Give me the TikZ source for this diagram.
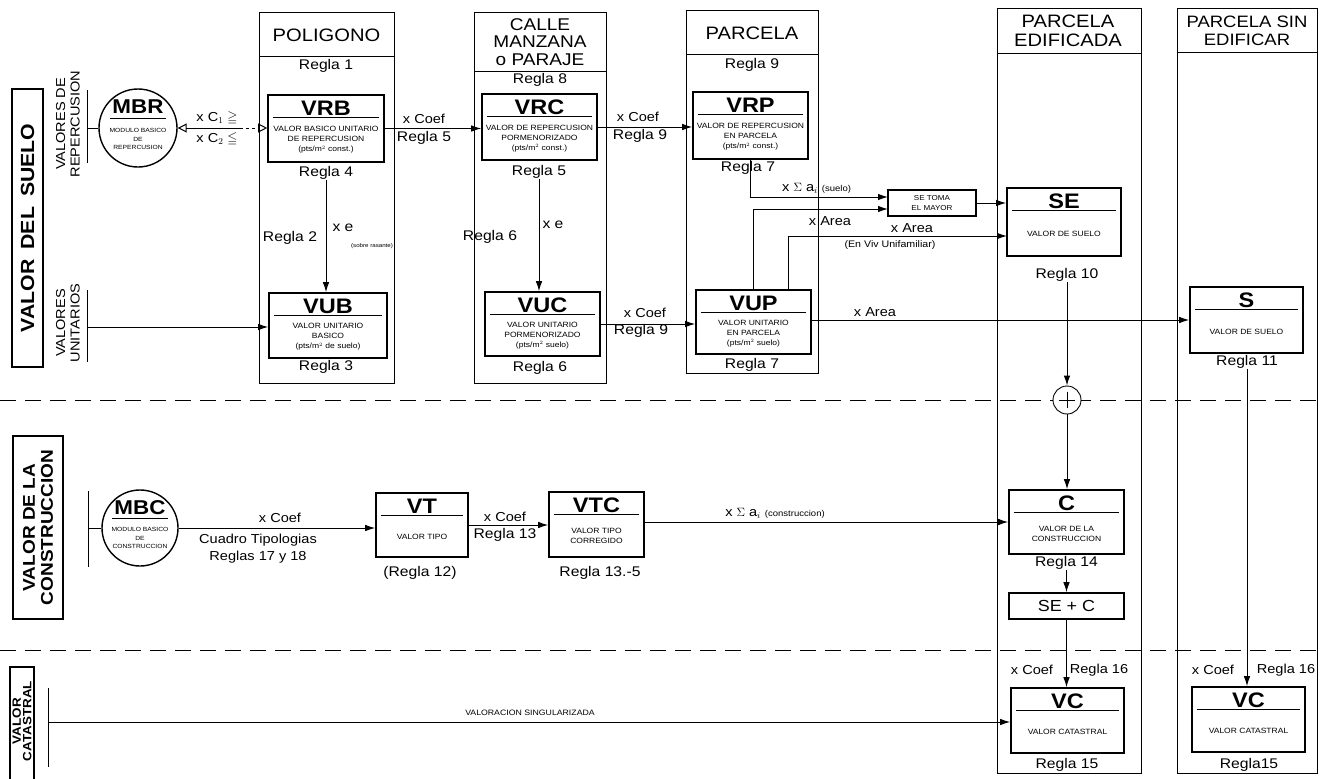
\documentclass[tikz,border=0pt]{standalone}
\usepackage{amssymb}
\usepackage{fontspec}
\setmainfont{Liberation Sans}[FakeStretch=1.12]
\usetikzlibrary{arrows.meta,calc}
\newcommand{\fsz}[2]{\fontsize{#1}{#2}\selectfont}
\newcommand{\mybox}[7]{%
  \node[bx, minimum width=#4, minimum height=#5] (#1) at (#2,#3) {};
  \node[ttl] (#1t) at ($(#1.north)+(0,14)$) {#6};
  \draw[line width=0.8pt] ($(#1.north west)+(6,23)$) -- ($(#1.north east)+(-6,23)$);
  \node[sm] (#1s) at ($(#1.center)+(0,11.5)$) {#7};
}
\begin{document}
\begin{tikzpicture}[x=1pt,y=-1pt,
  bx/.style={draw, line width=1.6pt, inner sep=0},
  col/.style={line width=0.8pt},
  arr/.style={-{Latex[length=10pt,width=6.5pt]}, line width=1pt},
  lnk/.style={line width=1pt},
  hd/.style={inner sep=0, align=center, font=\fsz{18}{19}},
  rg/.style={inner sep=0, font=\fsz{14}{16}},
  lab/.style={inner sep=0, font=\fsz{13}{15}},
  ttl/.style={inner sep=0, font=\bfseries\fsz{21}{21}},
  sm/.style={inner sep=0, align=center, font=\fsz{7.6}{10}},
  sep/.style={dash pattern=on 16pt off 9pt, line width=0.9pt},
  side/.style={draw, line width=1.3pt, inner sep=0},
  sidetxt/.style={inner sep=0, rotate=90, align=center},
]
\useasboundingbox[fill=white] (0,0) rectangle (1323,779);

% separators
\draw[sep] (0,400) -- (1323,400);
\draw[sep] (0,650) -- (1323,650);

% columns
\draw[col] (259,12) rectangle (394,383); \draw[col] (259,56) -- (394,56);
\draw[col] (474,12) rectangle (606,383); \draw[col] (474,71) -- (606,71);
\draw[col] (686,10) rectangle (818,373); \draw[col] (686,54) -- (818,54);
\draw[col] (997,8) rectangle (1141,773); \draw[col] (997,53) -- (1141,53);
\draw[col] (1177,8) rectangle (1317,773); \draw[col] (1177,52) -- (1317,52);

% headers
\node[hd] (hPol) at (326.5,35) {POLIGONO};
\node[hd, font=\fsz{17}{17.5}] (hCal) at (540,42) {CALLE\\MANZANA\\o PARAJE};
\node[hd] (hPar) at (752,33) {PARCELA};
\node[hd] (hEdi) at (1068,31) {PARCELA\\EDIFICADA};
\node[hd, font=\fsz{16.5}{18}] (hSin) at (1247,31) {PARCELA SIN\\EDIFICAR};

% side labels
\node[side, minimum width=31, minimum height=278] (lblS) at (27.5,228) {};
\node[sidetxt, font=\bfseries\fsz{19}{19}] (tS) at (lblS) {VALOR\hspace{10pt}DEL\hspace{10pt}SUELO};
\node[side, minimum width=50, minimum height=183] (lblC) at (38,527.5) {};
\node[sidetxt, font=\bfseries\fsz{17}{18}] (tC) at (lblC) {VALOR DE LA\\CONSTRUCCION};
\node[side, minimum width=24, minimum height=123] (lblV) at (22,728.5) {};
\node[sidetxt, font=\bfseries\fsz{12}{10.5}] (tV) at (22,721) {VALOR\\CATASTRAL};
\node[sidetxt, font=\fsz{13}{14.5}] (tVR) at (68,124) {VALORES DE\\REPERCUSION};
\node[sidetxt, font=\fsz{13}{14.5}] (tVU) at (68,323) {VALORES\\UNITARIOS};

% circles
\node[draw, circle, line width=1.4pt, minimum size=78, inner sep=0] (MBR) at (138,128) {};
\node[inner sep=0, font=\bfseries\fsz{20}{20}] (MBRt) at (138,107) {MBR};
\draw[line width=0.8pt] (110,118) -- (166,118);
\node[inner sep=0, align=center, font=\fsz{6}{8.5}] (MBRs) at (138,139) {MODULO BASICO\\DE\\REPERCUSION};

\node[draw, circle, line width=1.4pt, minimum size=76, inner sep=0] (MBC) at (140,528) {};
\node[inner sep=0, font=\bfseries\fsz{20}{20}] (MBCt) at (140,508) {MBC};
\draw[line width=0.8pt] (112,518) -- (168,518);
\node[inner sep=0, align=center, font=\fsz{6}{8.5}] (MBCs) at (140,538) {MODULO BASICO\\DE\\CONSTRUCCION};

% boxes
\mybox{VRB}{326}{128.5}{116}{67}{VRB}{VALOR BASICO UNITARIO\\DE REPERCUSION\\(pts/m$^2$ const.)}
\mybox{VUB}{328}{325.5}{118}{65}{VUB}{VALOR UNITARIO\\BASICO\\(pts/m$^2$ de suelo)}
\mybox{VRC}{539.5}{127}{115}{66}{VRC}{VALOR DE REPERCUSION\\PORMENORIZADO\\(pts/m$^2$ const.)}
\mybox{VUC}{542.5}{324}{115}{64}{VUC}{VALOR UNITARIO\\PORMENORIZADO\\(pts/m$^2$ suelo)}
\mybox{VRP}{750.5}{125.5}{115}{67}{VRP}{VALOR DE REPERCUSION\\EN PARCELA\\(pts/m$^2$ const.)}
\mybox{VUP}{753.5}{322}{115}{64}{VUP}{VALOR UNITARIO\\EN PARCELA\\(pts/m$^2$ suelo)}
\mybox{SE}{1064}{222}{114}{68}{SE}{VALOR DE SUELO}
\mybox{S}{1246.5}{320}{113}{66}{S}{VALOR DE SUELO}
\mybox{VT}{422}{525}{92}{64}{VT}{VALOR TIPO}
\mybox{VTC}{596.5}{524.5}{95}{65}{VTC}{VALOR TIPO\\CORREGIDO}
\mybox{C}{1066.5}{522}{115}{64}{C}{VALOR DE LA\\CONSTRUCCION}
\mybox{VC}{1067.5}{720.5}{113}{65}{VC}{VALOR CATASTRAL}
\mybox{VCb}{1248.5}{719.5}{113}{65}{VC}{VALOR CATASTRAL}

\node[bx, minimum width=88, minimum height=26, align=center, font=\fsz{7.2}{9.5}] (TOMA) at (932,203) {SE TOMA\\EL MAYOR};
\node[bx, minimum width=115, minimum height=26, font=\fsz{16}{16}] (SEC) at (1066.5,606) {SE + C};
\node[draw, circle, fill=white, line width=0.9pt, minimum size=28, inner sep=0] (plus) at (1067,400) {};
\draw[line width=0.9pt] (plus.north) ++(0,6) -- ++(0,16);
\draw[line width=0.9pt] (plus.west) ++(6,0) -- ++(16,0);

% regla labels
\node[rg] (r1) at (326,66) {Regla 1};
\node[rg] (r8) at (540,80) {Regla 8};
\node[rg] (r9a) at (752,65) {Regla 9};
\node[rg] (r4) at (326,173) {Regla 4};
\node[rg] (r3) at (326,367) {Regla 3};
\node[rg] (r5a) at (539,172) {Regla 5};
\node[rg] (r6a) at (540,368) {Regla 6};
\node[rg] (r7a) at (748,168) {Regla 7};
\node[rg] (r7b) at (752,365) {Regla 7};
\node[rg] (r10) at (1067,275) {Regla 10};
\node[rg] (r11) at (1247,362) {Regla 11};
\node[rg] (r14) at (1066.5,563) {Regla 14};
\node[rg] (r15a) at (1067,765) {Regla 15};
\node[rg] (r15b) at (1249,765) {Regla15};
\node[rg] (r12) at (420,573) {(Regla 12)};
\node[rg] (r13b) at (600,573) {Regla 13.-5};
\node[rg] (r2) at (290,238) {Regla 2};
\node[rg] (r6b) at (490,237) {Regla 6};

% MBR -> VRB
\coordinate (fr) at (240,128);
\draw[lnk, {Triangle[open,length=9pt,width=9pt]}-] (MBR.east) -- (fr);
\draw[lnk, dashed, -{Triangle[open,length=9pt,width=9pt]}] (fr) -- (fr -| VRB.west);
\node[lab] (c1) at (217,118) {x C$_1$ $\geqq$};
\node[lab] (c2) at (217,139) {x C$_2$ $\leqq$};
\coordinate (vrT) at (87,90); \coordinate (vrB) at (87,163);
\draw[lnk] (vrT) -- (vrB);
\draw[lnk] (vrT |- MBR) -- (MBR.west);

% unitarios
\coordinate (vuT) at (87,290); \coordinate (vuB) at (87,362);
\draw[lnk] (vuT) -- (vuB);
\coordinate (vuM) at (87,327);
\draw[arr] (vuM) -- (vuM -| VUB.west);

% top row
\draw[arr] (VRB.east) -- (VRB.east -| VRC.west);
\node[lab] at (424,119) {x Coef};
\node[rg] at (424,138) {Regla 5};
\draw[arr] (VRC.east) -- (VRC.east -| VRP.west);
\node[lab] at (638,117) {x Coef};
\node[rg] at (640,136) {Regla 9};

% verticals
\draw[arr] (r4.south) -- (r4.south |- VUB.north);
\node[rg] at (343,228) {x e};
\node[inner sep=0, font=\fsz{5.5}{5.5}] at (372,246) {(sobre rasante)};
\draw[arr] (r5a.south) -- (r5a.south |- VUC.north);
\node[rg] at (553,225) {x e};

% VUC -> VUP
\draw[arr] (VUC.east) -- (VUC.east -| VUP.west);
\node[lab] at (645,313) {x Coef};
\node[rg] at (641,331) {Regla 9};

% to SE TOMA
\coordinate (k1) at (888,197);
\coordinate (k2) at (888,209);
\draw[arr] (VRP.south) |- (k1);
\draw[arr] (VUP.north) |- (k2);
\node[inner sep=0, anchor=west] at (782,188) {\fsz{13}{13}x $\Sigma$ a$_i$ \fsz{8.5}{8.5}(suelo)};
\node[lab] at (830,221) {x Area};

\coordinate (k3a) at (788,290);
\coordinate (k3b) at (1007,236);
\draw[arr] (k3a) |- (k3b);
\node[lab] at (912,228) {x Area};
\node[inner sep=0, font=\fsz{9.5}{10}] at (890,245) {(En Viv Unifamiliar)};

\draw[arr] (TOMA.east) -- (TOMA.east -| SE.west);

% VUP -> S
\draw[arr] (VUP.east |- S.west) -- (S.west);
\node[lab] at (875,312) {x Area};

% edificada column
\draw[arr] (r10.south) -- (plus.north);
\draw[arr] (plus.south) -- (plus.south |- C.north);
\draw[arr] (r14.south) -- (SEC.north);
\draw[arr] (SEC.south) -- (SEC.south |- VC.north);
\node[lab] at (1032,670) {x Coef};
\node[lab] at (1099,670) {Regla 16};

% sin edificar
\draw[arr] (r11.south) -- (r11.south |- VCb.north);
\node[lab] at (1213,670) {x Coef};
\node[lab] at (1286,670) {Regla 16};

% construccion row
\coordinate (mcT) at (88,491); \coordinate (mcB) at (88,567);
\draw[lnk] (mcT) -- (mcB);
\draw[lnk] (mcT |- MBC) -- (MBC.west);
\draw[arr] (MBC.east) -- (MBC.east -| VT.west);
\node[lab] at (280,518) {x Coef};
\node[lab, align=center, font=\fsz{13}{17}] at (258,549) {Cuadro Tipologias\\Reglas 17 y 18};
\draw[arr] (VT.east) -- (VT.east -| VTC.west);
\node[lab] at (505,517) {x Coef};
\node[rg] at (505,535) {Regla 13};
\draw[arr] (VTC.east |- C.west) -- (C.west);
\node[inner sep=0] at (775,513) {\fsz{13}{13}x $\Sigma$ a$_i$ \fsz{8.5}{8.5}(construccion)};

% catastral
\coordinate (vcT) at (48,688); \coordinate (vcB) at (48,767);
\draw[lnk] (vcT) -- (vcB);
\coordinate (vcM) at (48,722);
\draw[arr] (vcM) -- (vcM -| VC.west);
\node[inner sep=0, font=\fsz{7.8}{8}] at (530,713) {VALORACION SINGULARIZADA};
\end{tikzpicture}
\end{document}
